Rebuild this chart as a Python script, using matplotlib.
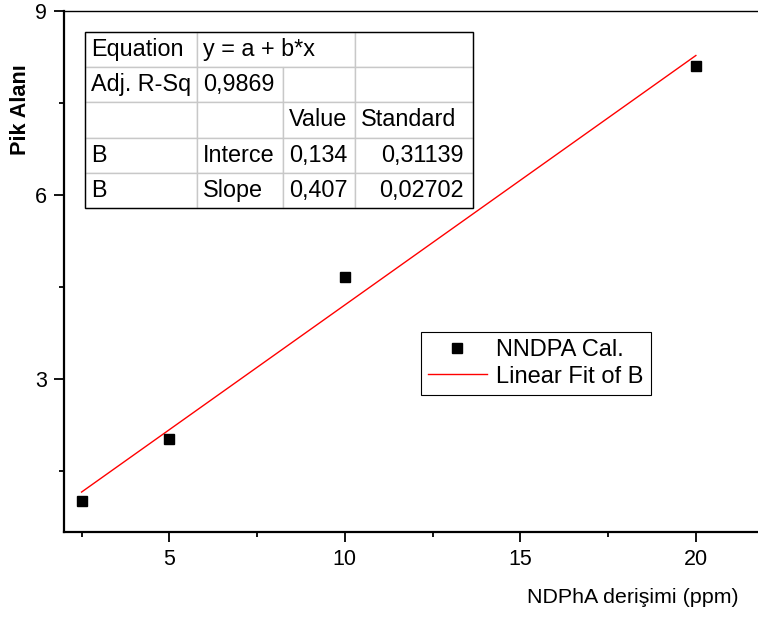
import numpy as np
import matplotlib
matplotlib.use('Agg')
import matplotlib.pyplot as plt
from matplotlib.patches import Rectangle
from matplotlib.ticker import MultipleLocator

plt.rcParams['font.family'] = ['Liberation Sans', 'DejaVu Sans']

# data
conc = [2.5, 5, 10, 20]          # NDPhA derisimi (ppm)
area = [1.01, 2.02, 4.66, 8.11]  # Pik Alani
fit_a = 0.134
fit_b = 0.407

table_rows = [
    ['Equation', 'y = a + b*x', '', ''],
    ['Adj. R-Sq', '0,9869', '', ''],
    ['', '', 'Value', 'Standard'],
    ['B', 'Interce', '0,134', '0,31139'],
    ['B', 'Slope', '0,407', '0,02702'],
]
col_px = [112, 86, 72, 118]

fig = plt.figure(figsize=(7.58, 6.21), dpi=100)
ax = fig.add_axes([64 / 758, 89 / 621, 694 / 758, 521 / 621])

ax.plot(conc, area, 's', color='black', markersize=7.8, label='NNDPA Cal.', zorder=3)
x_fit = np.array([min(conc), max(conc)])
ax.plot(x_fit, fit_a + fit_b * x_fit, color='red', lw=1, label='Linear Fit of B', zorder=2)

ax.set_xlim(2, 21.77)
ax.set_ylim(0.5, 9)
ax.xaxis.set_major_locator(MultipleLocator(5))
ax.xaxis.set_minor_locator(MultipleLocator(2.5))
ax.yaxis.set_major_locator(MultipleLocator(3))
ax.yaxis.set_minor_locator(MultipleLocator(1.5))
ax.tick_params(which='major', direction='out', length=7, width=1.3, labelsize=15.5, pad=5)
ax.tick_params(which='minor', direction='out', length=3.5, width=1.3)
ax.spines['right'].set_visible(False)
ax.spines['left'].set_linewidth(1.6)
ax.spines['bottom'].set_linewidth(1.6)
ax.spines['top'].set_linewidth(1.0)

ax.set_xlabel('NDPhA derişimi (ppm)', fontsize=15.4)
ax.xaxis.set_label_coords(0.819, -0.108)
ax.set_ylabel('Pik Alanı', fontsize=15.6, fontweight='bold')
ax.yaxis.set_label_coords(-0.047, 0.81)

leg = ax.legend(loc='upper left', bbox_to_anchor=(0.514, 0.384), borderaxespad=0,
                fancybox=False, edgecolor='black', framealpha=1, fontsize=17,
                handlelength=2.5, handletextpad=0.4, labelspacing=0.2, borderpad=0.3)
leg.get_frame().set_linewidth(0.8)

# parameter table
tb_x, tb_w = 21 / 694, 388 / 694
tb_y, tb_h = (532 - 208) / 521, 176 / 521
tab = ax.table(cellText=table_rows, colWidths=[w / sum(col_px) for w in col_px],
               bbox=[tb_x, tb_y, tb_w, tb_h], cellLoc='left')
tab.auto_set_font_size(False)
tab.set_fontsize(16.8)
for (r, c), cell in tab.get_celld().items():
    cell.set_edgecolor('#c8c8c8')
    cell.set_linewidth(1)
    cell.PAD = 6 / col_px[c]
    cell.get_text().set_clip_on(False)
    if c == 3 and r >= 3:
        cell._loc = 'right'
        cell.get_text().set_ha('right')
        cell.PAD = 9 / col_px[c]
tab[0, 1].visible_edges = 'BTL'
tab[0, 2].visible_edges = 'BTR'
tab[0, 2].set_facecolor('none')
ax.add_patch(Rectangle((tb_x, tb_y), tb_w, tb_h, transform=ax.transAxes, fill=False,
                       edgecolor='black', lw=1, zorder=20, clip_on=False))

plt.savefig('out.png', dpi=100)
